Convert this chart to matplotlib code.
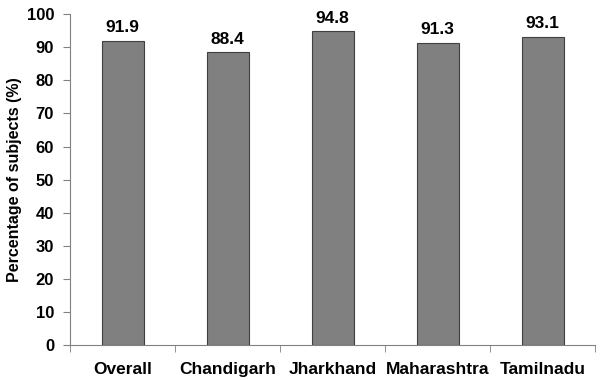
import matplotlib
matplotlib.use("Agg")
import matplotlib.pyplot as plt
import numpy as np

plt.rcParams['font.family'] = ['Liberation Sans', 'DejaVu Sans']
plt.rcParams['font.weight'] = 'bold'

regions = ['Overall', 'Chandigarh', 'Jharkhand', 'Maharashtra', 'Tamilnadu']
percent = [91.9, 88.4, 94.8, 91.3, 93.1]

fig = plt.figure(figsize=(6, 3.8), dpi=100)
ax = fig.add_axes([0.1167, 0.091, 0.875, 0.872])

x = np.arange(len(regions))
ax.bar(x, percent, width=0.4, color='#808080', edgecolor='#404040', linewidth=0.8)
for xi, v in zip(x, percent):
    ax.annotate(f"{v:.1f}", (xi, v), xytext=(0, 4), textcoords='offset points',
                ha='center', va='bottom', fontsize=12.5, fontweight='bold')

ax.set_xlim(-0.5, len(regions) - 0.5)
ax.set_ylim(0, 100)
ax.set_yticks(np.arange(0, 101, 10))
ax.set_xticks(x)
ax.set_xticklabels(regions, fontsize=12.5, fontweight='bold')
ax.set_xticks(np.arange(-0.5, len(regions), 1), minor=True)
ax.tick_params(axis='x', which='major', length=0, pad=12)
ax.tick_params(axis='x', which='minor', length=5, color='#808080', direction='out')
ax.tick_params(axis='y', length=5, color='#808080', labelsize=12, pad=6.5)
for lbl in ax.get_yticklabels():
    lbl.set_fontweight('bold')

ax.set_ylabel('Percentage of subjects (%)', fontsize=11.5, fontweight='bold', labelpad=3)

for s in ['top', 'right']:
    ax.spines[s].set_visible(False)
for s in ['left', 'bottom']:
    ax.spines[s].set_color('#808080')
    ax.spines[s].set_linewidth(0.8)

fig.savefig('out.png', dpi=100)
